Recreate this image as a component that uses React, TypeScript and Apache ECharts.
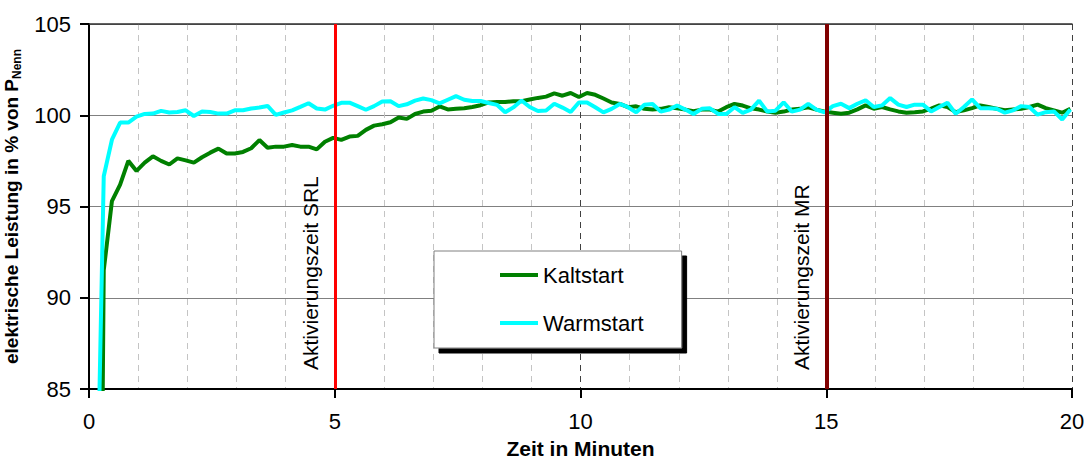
import React, { useEffect, useRef } from "react";
import * as echarts from "echarts";

// Sampling grid of the measurement (seconds): first sample at 8 s, then every 10 s
const SAMPLE_START_S = 8;
const SAMPLE_STEP_S = 10;

// elektrische Leistung in % von P_Nenn
const KALTSTART = [
  38, 91.5, 95.3, 96.2, 97.5, 96.95, 97.4, 97.75, 97.5, 97.3,
  97.64, 97.53, 97.4, 97.7, 97.95, 98.17, 97.9, 97.9, 97.99, 98.19,
  98.64, 98.22, 98.28, 98.28, 98.37, 98.28, 98.28, 98.13, 98.55, 98.76,
  98.65, 98.83, 98.87, 99.2, 99.43, 99.51, 99.62, 99.88, 99.8, 100.07,
  100.2, 100.25, 100.48, 100.32, 100.35, 100.38, 100.45, 100.55, 100.7, 100.72,
  100.72, 100.77, 100.77, 100.86, 100.95, 101.02, 101.2, 101.07, 101.22, 101.0,
  101.22, 101.12, 100.92, 100.7, 100.62, 100.44, 100.49, 100.35, 100.31, 100.35,
  100.44, 100.38, 100.31, 100.22, 100.31, 100.31, 100.2, 100.44, 100.62, 100.53,
  100.38, 100.31, 100.2, 100.13, 100.2, 100.31, 100.35, 100.44, 100.31, 100.2,
  100.14, 100.08, 100.14, 100.32, 100.54, 100.36, 100.45, 100.32, 100.21, 100.14,
  100.17, 100.21, 100.36, 100.54, 100.45, 100.17, 100.27, 100.39, 100.54, 100.45,
  100.36, 100.27, 100.32, 100.36, 100.45, 100.58, 100.39, 100.27, 100.14, 100.36,
];

const WARMSTART = [
  74, 96.66, 98.66, 99.6, 99.6, 99.92, 100.07, 100.09, 100.24, 100.15,
  100.18, 100.27, 99.96, 100.2, 100.18, 100.09, 100.09, 100.27, 100.27, 100.37,
  100.42, 100.51, 100.02, 100.15, 100.27, 100.46, 100.66, 100.37, 100.31, 100.52,
  100.68, 100.69, 100.5, 100.3, 100.5, 100.75, 100.77, 100.5, 100.6, 100.8,
  100.92, 100.83, 100.65, 100.85, 101.05, 100.85, 100.78, 100.78, 100.67, 100.57,
  100.16, 100.43, 100.81, 100.45, 100.23, 100.26, 100.63, 100.42, 100.18, 100.7,
  100.7, 100.44, 100.16, 100.35, 100.62, 100.44, 100.16, 100.57, 100.62, 100.2,
  100.31, 100.53, 100.31, 100.07, 100.35, 100.38, 100.07, 100.07, 100.44, 100.13,
  100.31, 100.8, 100.2, 100.25, 100.71, 100.2, 100.31, 100.62, 100.31, 100.16,
  100.5, 100.63, 100.39, 100.63, 100.82, 100.45, 100.54, 100.94, 100.58, 100.45,
  100.58, 100.58, 100.21, 100.45, 100.69, 100.08, 100.45, 100.87, 100.39, 100.39,
  100.36, 100.14, 100.27, 100.5, 100.45, 100.03, 100.17, 100.21, 99.77, 100.32,
];

const SERIES_NAMES = ["Kaltstart", "Warmstart"];
const MARKERS = [
  { minute: 5, label: "Aktivierungszeit SRL" },
  { minute: 15, label: "Aktivierungszeit MR" },
];
const X_MIN = 0, X_MAX = 20, X_STEP = 5;
const Y_MIN = 85, Y_MAX = 105, Y_STEP = 5;

const FONT = "'Liberation Sans', Arial, Helvetica, sans-serif";

function timeOf(i: number) {
  return (SAMPLE_START_S + SAMPLE_STEP_S * i) / 60;
}

export default function App() {
  const ref = useRef<HTMLDivElement>(null);

  useEffect(() => {
    if (!ref.current) return;
    const chart = echarts.init(ref.current, undefined, { renderer: "svg" });
    const kalt = KALTSTART.map((v, i) => [timeOf(i), v]);
    const warm = WARMSTART.map((v, i) => [timeOf(i), v]);

    chart.setOption({
      animation: false,
      textStyle: { fontFamily: FONT },
      grid: { left: 89, right: 15, top: 24, bottom: 72, containLabel: false, outerBoundsMode: "none" },
      legend: {
        data: SERIES_NAMES,
        orient: "vertical",
        left: 434,
        top: 251,
        padding: [13, 38, 14, 66],
        itemGap: 26,
        itemWidth: 38,
        itemHeight: 4,
        icon: "rect",
        backgroundColor: "#ffffff",
        borderColor: "#808080",
        borderWidth: 1,
        shadowColor: "#000000",
        shadowBlur: 0,
        shadowOffsetX: 5,
        shadowOffsetY: 5,
        textStyle: { fontSize: 22, color: "#000", fontFamily: FONT },
      },
      xAxis: [
        {
          type: "value",
          min: X_MIN,
          max: X_MAX,
          interval: X_STEP,
          position: "bottom",
          name: "Zeit in Minuten",
          nameLocation: "middle",
          nameGap: 51,
          nameTextStyle: { fontSize: 21, lineHeight: 17, fontWeight: "bold", color: "#000", fontFamily: FONT },
          axisLine: { show: true, onZero: false, lineStyle: { color: "#000", width: 2 } },
          axisTick: { show: true, length: 9, lineStyle: { color: "#000", width: 2 } },
          axisLabel: { fontSize: 22, color: "#000", margin: 21, fontFamily: FONT },
          splitLine: { show: true, lineStyle: { color: "#404040", width: 1, type: [6, 5] } },
          minorTick: { show: false, splitNumber: 5 },
          minorSplitLine: { show: true, lineStyle: { color: "#c4c4c4", width: 1, type: [6, 5] } },
        },
        {
          type: "value",
          min: X_MIN,
          max: X_MAX,
          position: "top",
          axisLine: { show: true, onZero: false, lineStyle: { color: "#303030", width: 1.5 } },
          axisTick: { show: false },
          axisLabel: { show: false },
          splitLine: { show: false },
        },
      ],
      yAxis: {
        type: "value",
        min: Y_MIN,
        max: Y_MAX,
        interval: Y_STEP,
        name: "{main|elektrische Leistung in % von P}{sub|Nenn}",
        nameLocation: "middle",
        nameGap: 62,
        nameRotate: 90,
        nameTextStyle: {
          color: "#000",
          rich: {
            main: { fontSize: 19, fontWeight: "bold", color: "#000", fontFamily: FONT, lineHeight: 24 },
            sub: { fontSize: 12, fontWeight: "bold", color: "#000", fontFamily: FONT, lineHeight: 12, verticalAlign: "bottom" },
          },
        },
        axisLine: { show: true, onZero: false, lineStyle: { color: "#000", width: 2 } },
        axisTick: { show: true, length: 9, lineStyle: { color: "#000", width: 2 } },
        axisLabel: { fontSize: 22, color: "#000", margin: 18, fontFamily: FONT },
        splitLine: { show: true, lineStyle: { color: "#808080", width: 1 } },
      },
      series: [
        {
          name: SERIES_NAMES[0],
          type: "line",
          data: kalt,
          symbol: "none",
          color: "#008000",
          lineStyle: { color: "#008000", width: 4 },
          clip: true,
        },
        {
          name: SERIES_NAMES[1],
          type: "line",
          data: warm,
          symbol: "none",
          color: "#00ffff",
          lineStyle: { color: "#00ffff", width: 4 },
          clip: true,
          markLine: {
            silent: true,
            symbol: ["none", "none"],
            data: MARKERS.map((m, i) => ({
              xAxis: m.minute,
              lineStyle: { color: i === 0 ? "#ff0000" : "#800000", width: i === 0 ? 3 : 4, type: "solid" },
              label: {
                show: true,
                formatter: m.label,
                position: "insideStartTop",
                distance: [19, 14],
                fontSize: 21,
                color: "#000",
                fontFamily: FONT,
              },
            })),
          },
        },
      ],
    });
    return () => chart.dispose();
  }, []);

  return (
    <div
      ref={ref}
      style={{ position: "fixed", left: 0, top: 0, width: 1087, height: 461, background: "#fff" }}
    />
  );
}
